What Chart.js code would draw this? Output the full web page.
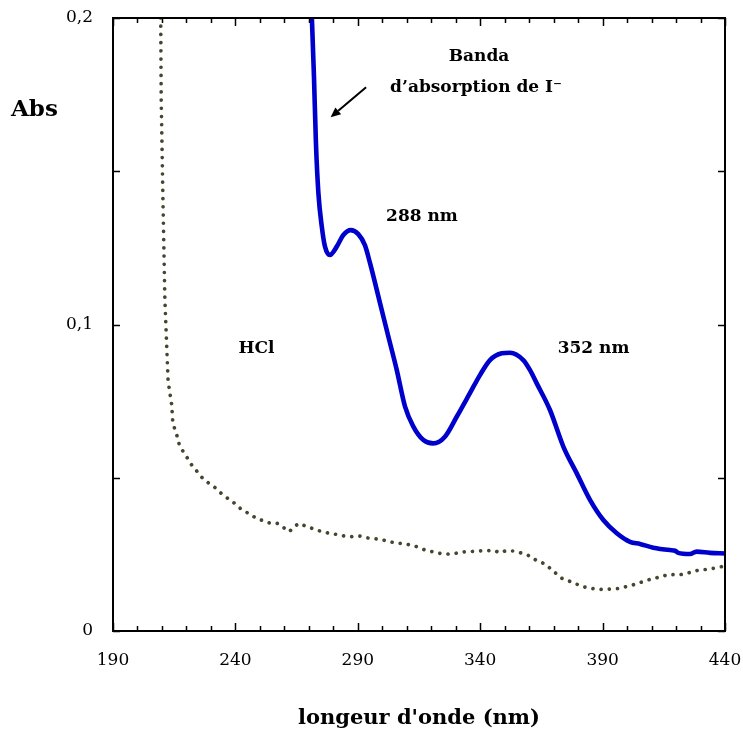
<!DOCTYPE html>
<html>
<head>
<meta charset="utf-8">
<script src="https://cdn.jsdelivr.net/npm/chart.js@4/dist/chart.umd.min.js"></script>
<style>
  html, body { margin: 0; padding: 0; background: #ffffff; }
  #wrap { width: 743px; height: 729px; }
</style>
</head>
<body>
<div id="wrap"><canvas id="c" width="743" height="729"></canvas></div>
<script>
// ---- Data ----
// Solution with iodide (blue solid curve)
const iodideWavelength = [271.1, 272.1, 272.9, 273.9, 275.3, 276.6, 278.6, 281.4, 284.1, 287.1, 290.2, 292.9, 295.0, 299.1, 302.5, 305.9, 309.3, 312.7, 316.8, 320.8, 325.6, 330.4, 335.8, 339.9, 344.0, 348.8, 352.2, 357.6, 360.3, 363.1, 368.5, 374.0, 379.4, 384.9, 390.3, 395.8, 401.2, 405.3, 410.7, 417.5, 419.6, 420.9, 425.7, 428.4, 433.9, 440.0];
const iodideAbs = [0.203, 0.1808, 0.1592, 0.1429, 0.1319, 0.1254, 0.1227, 0.1254, 0.1292, 0.1308, 0.1295, 0.1259, 0.1200, 0.1069, 0.0960, 0.0852, 0.0732, 0.0667, 0.0623, 0.0612, 0.0634, 0.0699, 0.0776, 0.0835, 0.0884, 0.0906, 0.0908, 0.0884, 0.0852, 0.0808, 0.0721, 0.0601, 0.0515, 0.0427, 0.0362, 0.0319, 0.0291, 0.0284, 0.0272, 0.0264, 0.0262, 0.0255, 0.0251, 0.0259, 0.0255, 0.0253];

// HCl blank (dotted curve)
const hclWavelength = [209.5, 209.7, 210.4, 211.2, 212.5, 214.0, 214.4, 215.3, 216.3, 217.1, 218.7, 220.4, 222.1, 224.2, 226.2, 228.3, 231.7, 234.1, 236.4, 238.5, 240.8, 243.2, 246.0, 248.7, 251.4, 254.4, 257.1, 259.6, 262.0, 264.3, 266.4, 269.1, 272.1, 275.3, 278.4, 281.4, 284.4, 287.5, 290.6, 293.6, 297.0, 300.2, 303.2, 306.3, 308.6, 314.1, 317.5, 320.2, 323.6, 326.6, 329.7, 332.9, 336.1, 339.2, 342.4, 345.6, 348.1, 350.5, 353.5, 356.5, 359.6, 362.0, 364.1, 367.2, 369.2, 371.3, 373.3, 375.3, 378.0, 381.1, 384.2, 387.3, 390.3, 393.4, 396.8, 399.8, 402.3, 405.3, 408.3, 411.4, 414.6, 417.5, 420.7, 423.7, 426.4, 429.5, 432.5, 435.6, 438.7, 440.0];
const hclAbs = [0.2, 0.1732, 0.1406, 0.108, 0.0816, 0.0737, 0.0683, 0.0656, 0.0633, 0.0607, 0.0585, 0.0564, 0.0542, 0.0522, 0.0502, 0.0487, 0.0468, 0.045, 0.0435, 0.0425, 0.0408, 0.0392, 0.0382, 0.0366, 0.036, 0.0351, 0.0351, 0.0338, 0.0324, 0.0343, 0.0351, 0.034, 0.0333, 0.0324, 0.0319, 0.0315, 0.031, 0.0308, 0.031, 0.0304, 0.0301, 0.0297, 0.0291, 0.0286, 0.0286, 0.0275, 0.0264, 0.0259, 0.0253, 0.0251, 0.0253, 0.0258, 0.0259, 0.0261, 0.0262, 0.0263, 0.0255, 0.0262, 0.0261, 0.0255, 0.0247, 0.0234, 0.0228, 0.0215, 0.0199, 0.0186, 0.0172, 0.0166, 0.0158, 0.0147, 0.014, 0.0137, 0.0135, 0.0137, 0.0139, 0.0145, 0.015, 0.0158, 0.0166, 0.0172, 0.0179, 0.0185, 0.0183, 0.0186, 0.0193, 0.0199, 0.0201, 0.0205, 0.021, 0.0212];

// Axis ranges and tick labels
const xRange = [190, 440];
const yRange = [0, 0.2];
const xLabelValues = [190, 240, 290, 340, 390, 440];
const yLabelValues = [0, 0.1, 0.2];
const yLabelTexts = ['0', '0,1', '0,2'];

// Annotation texts (anchored in data units)
const noteTexts = ['Banda', 'd\u2019absorption de I\u207B', '288 nm', '352 nm', 'HCl'];
const noteX = [339.5, 338.3, 316.2, 386.3, 248.6];
const noteY = [0.1874, 0.1772, 0.1352, 0.092, 0.092];
const arrowFrom = [293.4, 0.1774];
const arrowTo = [278.9, 0.1676];

// ---- Chart ----
const FONT = "'DejaVu Serif', 'Liberation Serif', serif";

const toPoints = (xs, ys) => xs.map((x, i) => ({ x: x, y: ys[i] }));

const framePlugin = {
  id: 'frameTicks',
  afterDatasetsDraw(chart) {
    const ctx = chart.ctx;
    const { left, right, top, bottom } = chart.chartArea;
    const xs = chart.scales.x, ys = chart.scales.y;
    ctx.save();
    ctx.strokeStyle = '#000';
    ctx.lineWidth = 1.5;
    ctx.beginPath();
    xs.ticks.forEach(t => {
      const px = Math.round(xs.getPixelForValue(t.value)) + 0.5;
      const len = (Math.round(t.value) % 50 === 40) ? 8 : 5;
      ctx.moveTo(px, bottom); ctx.lineTo(px, bottom - len);
      ctx.moveTo(px, top); ctx.lineTo(px, top + len);
    });
    ys.ticks.forEach(t => {
      const py = Math.round(ys.getPixelForValue(t.value)) + 0.5;
      ctx.moveTo(left, py); ctx.lineTo(left + 7, py);
      ctx.moveTo(right, py); ctx.lineTo(right - 7, py);
    });
    ctx.stroke();
    ctx.lineWidth = 2;
    ctx.strokeRect(left, top, right - left, bottom - top);
    ctx.restore();
  }
};

const notesPlugin = {
  id: 'notes',
  afterDraw(chart) {
    const ctx = chart.ctx;
    const xs = chart.scales.x, ys = chart.scales.y;
    const { top } = chart.chartArea;
    ctx.save();
    ctx.fillStyle = '#000';
    ctx.textBaseline = 'middle';
    ctx.textAlign = 'center';
    ctx.font = 'bold 17px ' + FONT;
    noteTexts.forEach((t, i) => {
      ctx.fillText(t, xs.getPixelForValue(noteX[i]), ys.getPixelForValue(noteY[i]));
    });
    // arrow
    const x1 = xs.getPixelForValue(arrowFrom[0]), y1 = ys.getPixelForValue(arrowFrom[1]);
    const x2 = xs.getPixelForValue(arrowTo[0]), y2 = ys.getPixelForValue(arrowTo[1]);
    const ang = Math.atan2(y2 - y1, x2 - x1);
    const hl = 10, hw = 4.5;
    const bx = x2 - hl * Math.cos(ang), by = y2 - hl * Math.sin(ang);
    ctx.strokeStyle = '#000';
    ctx.lineWidth = 2;
    ctx.beginPath();
    ctx.moveTo(x1, y1); ctx.lineTo(bx, by);
    ctx.stroke();
    ctx.beginPath();
    ctx.moveTo(x2, y2);
    ctx.lineTo(bx + hw * Math.sin(ang), by - hw * Math.cos(ang));
    ctx.lineTo(bx - hw * Math.sin(ang), by + hw * Math.cos(ang));
    ctx.closePath();
    ctx.fill();
    // "Abs" axis label (horizontal, upper left)
    ctx.textAlign = 'left';
    ctx.font = 'bold 23px ' + FONT;
    ctx.fillText('Abs', 11, top + 92);
    ctx.restore();
  }
};

function noEdgePadding(s) {
  s.paddingLeft = 0; s.paddingRight = 0; s.paddingTop = 0; s.paddingBottom = 0;
}

new Chart(document.getElementById('c'), {
  type: 'line',
  data: {
    datasets: [
      {
        label: 'I-',
        data: toPoints(iodideWavelength, iodideAbs),
        borderColor: '#0000cc',
        borderWidth: 4.6,
        pointRadius: 0,
        cubicInterpolationMode: 'monotone',
        borderJoinStyle: 'round',
        borderCapStyle: 'round',
        fill: false
      },
      {
        label: 'HCl',
        data: toPoints(hclWavelength, hclAbs),
        borderColor: '#48452f',
        borderWidth: 3.7,
        borderDash: [0.01, 8.2],
        borderCapStyle: 'round',
        borderJoinStyle: 'round',
        pointRadius: 0,
        tension: 0,
        fill: false
      }
    ]
  },
  options: {
    responsive: false,
    animation: false,
    layout: { padding: { top: 18, right: 18, left: 0, bottom: 0 } },
    plugins: { legend: { display: false }, tooltip: { enabled: false } },
    scales: {
      x: {
        type: 'linear',
        min: xRange[0], max: xRange[1],
        grid: { display: false, drawTicks: false },
        border: { display: false },
        afterFit(s) { s.height = 98; noEdgePadding(s); },
        ticks: {
          stepSize: 10,
          autoSkip: false,
          maxRotation: 0,
          padding: 19,
          color: '#000',
          font: { family: FONT, size: 17 },
          callback: v => xLabelValues.includes(Math.round(v)) ? String(Math.round(v)) : ''
        },
        title: {
          display: true,
          text: "longeur d'onde (nm)",
          color: '#000',
          font: { family: FONT, size: 21, weight: 'bold', lineHeight: 1.0 },
          padding: { top: 0, bottom: 0 }
        }
      },
      y: {
        min: yRange[0], max: yRange[1],
        grid: { display: false, drawTicks: false },
        border: { display: false },
        afterFit(s) { s.width = 113; noEdgePadding(s); },
        ticks: {
          stepSize: 0.05,
          autoSkip: false,
          padding: 20,
          color: '#000',
          font: { family: FONT, size: 17 },
          callback: v => {
            const i = yLabelValues.findIndex(a => Math.abs(a - v) < 1e-9);
            return i >= 0 ? yLabelTexts[i] : '';
          }
        }
      }
    }
  },
  plugins: [framePlugin, notesPlugin]
});
</script>
</body>
</html>
